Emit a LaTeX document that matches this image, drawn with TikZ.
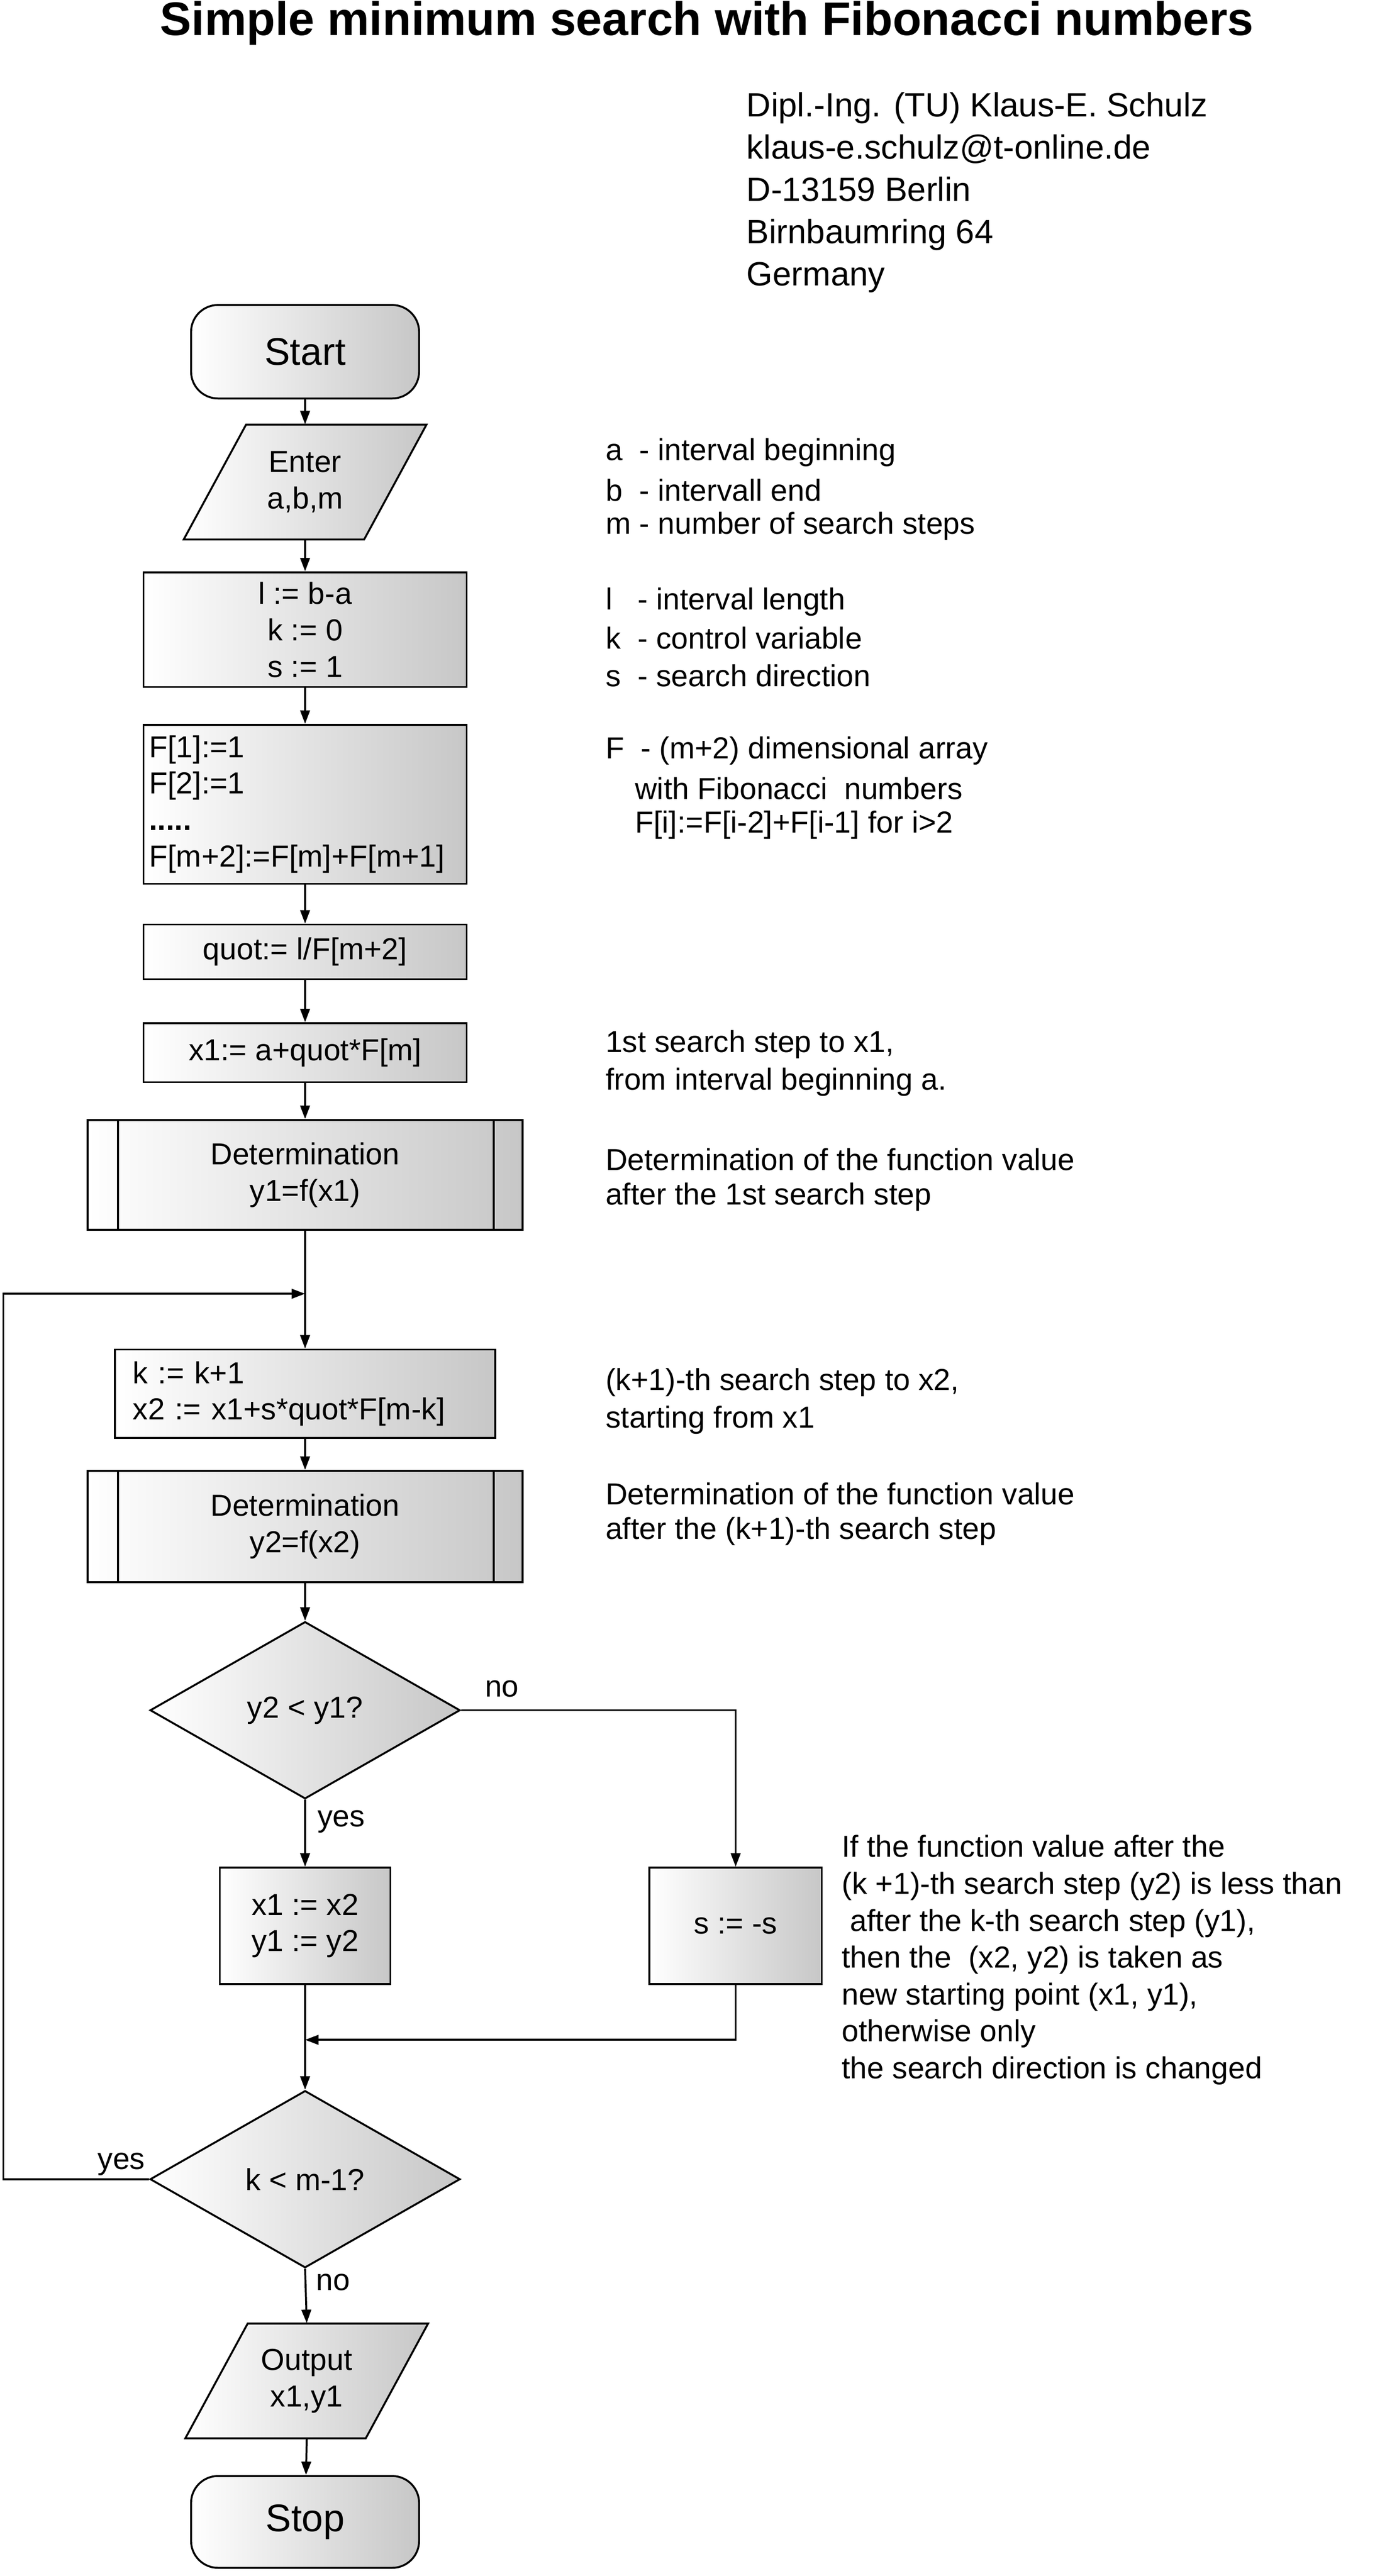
\documentclass[tikz,border=0pt]{standalone}
\usepackage{fontspec}
\setmainfont{Liberation Sans}
\usetikzlibrary{arrows.meta,shapes.geometric}
\begin{document}
\begin{tikzpicture}[x=0.03cm,y=-0.03cm,
  box/.style={draw,line width=1pt,left color=white,right color=black!22,inner sep=0pt,font=\fontsize{15.8}{19}\selectfont,align=center},
  ann/.style={anchor=west,inner sep=0pt,font=\fontsize{15.8}{19}\selectfont},
  lab/.style={inner sep=0pt,font=\fontsize{15.8}{18}\selectfont},
  ar/.style={line width=1pt,-{Triangle[length=7pt,width=5pt]}},
  ln/.style={line width=1pt}]
\useasboundingbox (0,0) rectangle (838,1571);
\node[font=\bfseries\fontsize{24.5}{28}\selectfont] (title) at (431,14) {Simple minimum search with Fibonacci numbers};
\node[anchor=north west,align=left,inner sep=0pt,font=\fontsize{17.5}{22}\selectfont] (addr) at (455,56)
 {Dipl.-Ing. (TU) Klaus-E. Schulz\\klaus-e.schulz@t-online.de\\D-13159 Berlin\\Birnbaumring 64\\Germany};
% nodes
\node[box,rounded corners=14pt,minimum width=4.17cm,minimum height=1.71cm,font=\fontsize{20}{23}\selectfont] (start) at (186,214.5) {Start};
\path[ln,draw,left color=white,right color=black!22] (112,329)--(150,259)--(260,259)--(222,329)--cycle;
\node[inner sep=0pt,minimum width=4.44cm,minimum height=2.1cm,align=center,font=\fontsize{15.8}{19}\selectfont] (enter) at (186,294) {Enter\\a,b,m};
\node[box,minimum width=5.91cm,minimum height=2.1cm] (b1) at (186,384) {l := b-a\\k := 0\\s := 1};
\node[box,minimum width=5.91cm,minimum height=2.91cm,align=left,text width=5.7cm] (b2) at (186,490.5) {F[1]:=1\\F[2]:=1\\\textbf{.....}\\F[m+2]:=F[m]+F[m+1]};
\node[box,minimum width=5.91cm,minimum height=1.0cm] (b3) at (186,580.5) {quot:= l/F[m+2]};
\node[box,minimum width=5.91cm,minimum height=1.08cm] (b4) at (186,642) {x1:= a+quot*F[m]};
\node[box,minimum width=7.95cm,minimum height=2.01cm] (s1) at (186,716.5) {Determination\\y1=f(x1)};
\draw[ln] (72,683)--(72,750) (301,683)--(301,750);
\coordinate (j1) at (186,789);
\node[box,minimum width=6.96cm,minimum height=1.62cm,align=left,text width=6.3cm] (b5) at (186,850) {k := k+1\\x2 := x1+s*quot*F[m-k]};
\node[box,minimum width=7.95cm,minimum height=2.04cm] (s2) at (186,931) {Determination\\y2=f(x2)};
\draw[ln] (72,897)--(72,965) (301,897)--(301,965);
\node[box,diamond,aspect=1.75,minimum width=5.67cm,minimum height=3.24cm] (d1) at (186,1043) {y2 < y1?};
\node[box,minimum width=3.12cm,minimum height=2.13cm] (b6) at (186,1174.5) {x1 := x2\\y1 := y2};
\node[box,minimum width=3.15cm,minimum height=2.13cm] (b7) at (448.5,1174.5) {s := -s};
\coordinate (j2) at (186,1244);
\node[box,diamond,aspect=1.75,minimum width=5.67cm,minimum height=3.24cm] (d2) at (186,1329) {k < m-1?};
\path[ln,draw,left color=white,right color=black!22] (113,1487)--(151,1417)--(261,1417)--(223,1487)--cycle;
\node[inner sep=0pt,minimum width=4.44cm,minimum height=2.1cm,align=center,font=\fontsize{15.8}{19}\selectfont] (out) at (187,1452) {Output\\x1,y1};
\node[box,rounded corners=14pt,minimum width=4.17cm,minimum height=1.68cm,font=\fontsize{20}{23}\selectfont] (stop) at (186,1538) {Stop};
% connectors
\draw[ar] (start)--(enter);
\draw[ar] (enter)--(b1);
\draw[ar] (b1)--(b2);
\draw[ar] (b2)--(b3);
\draw[ar] (b3)--(b4);
\draw[ar] (b4)--(s1);
\draw[ln] (s1.south)--(j1);
\draw[ar] (j1)--(b5);
\draw[ar] (b5)--(s2);
\draw[ar] (s2)--(d1);
\draw[ar] (d1.south)--(b6.north);
\draw[ar] (d1.east)-|(b7.north);
\draw[ln] (b6.south)--(j2);
\draw[ar] (b7.south)|-(j2);
\draw[ar] (j2)--(d2.north);
\draw[ar] (d2.south)--(out.north);
\draw[ar] (out.south)--(stop);
\coordinate (lb) at (2,1329);
\coordinate (lt) at (2,789);
\draw[ar] (d2.west)--(lb)--(lt)--(j1);
\node[lab] (no1) at (306,1030) {no};
\node[lab] (yes1) at (208,1111) {yes};
\node[lab] (yes2) at (74,1320) {yes};
\node[lab] (no2) at (203,1392) {no};
% annotations
\node[ann] (a1) at (369,276) {a\ \ - interval beginning};
\node[ann] (a2) at (369,299) {b\ \ - intervall end};
\node[ann] (a3) at (369,321) {m - number of search steps};
\node[ann] (a4) at (369,367) {l\ \ \ - interval length};
\node[ann] (a5) at (369,389) {k\ \ - control variable};
\node[ann] (a6) at (369,412) {s\ \ - search direction};
\node[ann] (a7) at (369,458) {F\ \ - (m+2) dimensional array};
\node[ann] (a8) at (387,481) {with Fibonacci\ \ numbers};
\node[ann] (a9) at (387,503) {F[i]:=F[i-2]+F[i-1] for i>2};
\node[ann] (a10) at (369,637) {1st search step to x1,};
\node[ann] (a11) at (369,660) {from interval beginning a.};
\node[ann] (a12) at (369,707) {Determination of the function value};
\node[ann] (a13) at (369,730) {after the 1st search step};
\node[ann] (a14) at (369,843) {(k+1)-th search step to x2,};
\node[ann] (a15) at (369,866) {starting from x1};
\node[ann] (a16) at (369,911) {Determination of the function value};
\node[ann] (a17) at (369,934) {after the (k+1)-th search step};
\node[anchor=north west,inner sep=0pt,align=left,font=\fontsize{15.8}{19.2}\selectfont] (a18) at (513,1119)
 {If the function value after the\\(k +1)-th search step (y2) is less than\\\ after the k-th search step (y1),\\then the\ \ (x2, y2) is taken as\\new starting point (x1, y1),\\otherwise only\\the search direction is changed};
\end{tikzpicture}
\end{document}
